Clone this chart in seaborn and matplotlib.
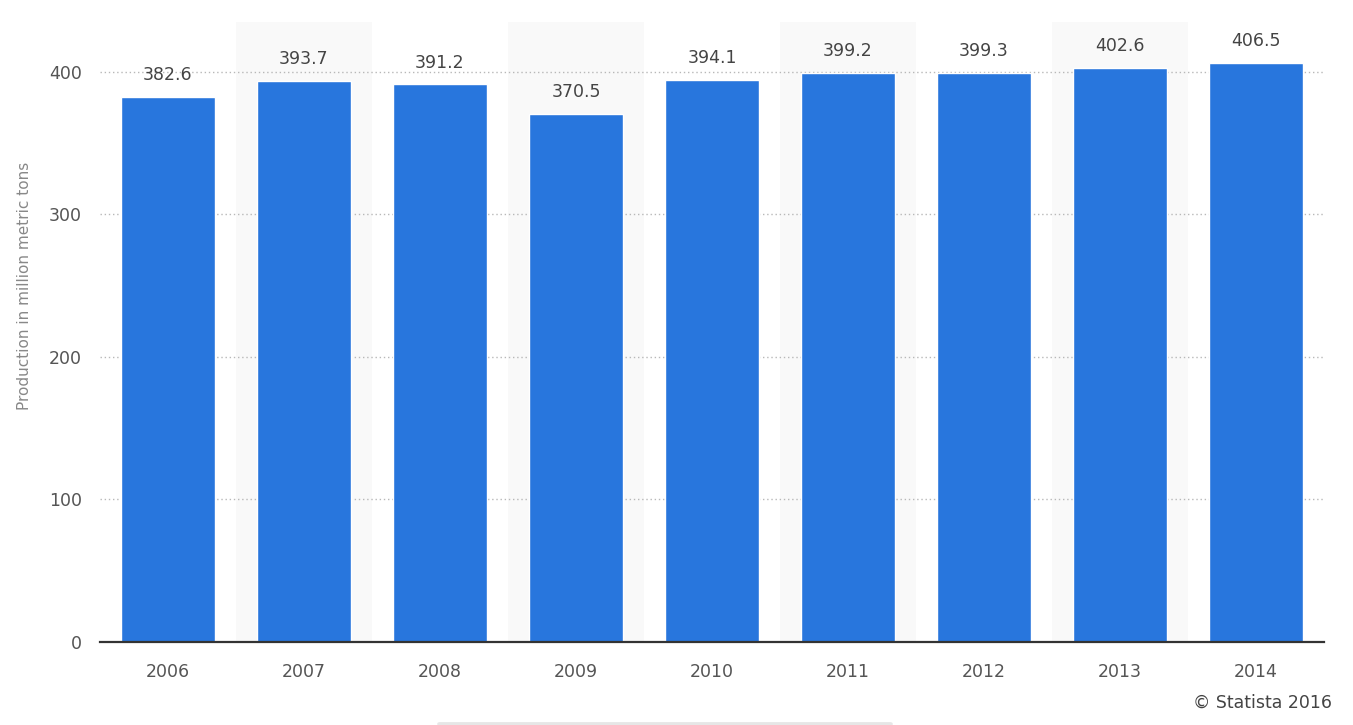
import matplotlib
matplotlib.use("Agg")
import matplotlib.pyplot as plt
from matplotlib.patches import FancyBboxPatch
import seaborn as sns
import pandas as pd

# data
years = ["2006", "2007", "2008", "2009", "2010", "2011", "2012", "2013", "2014"]
production = [382.6, 393.7, 391.2, 370.5, 394.1, 399.2, 399.3, 402.6, 406.5]
labels = ["382.6", "393.7", "391.2", "370.5", "394.1", "399.2", "399.3", "402.6", "406.5"]

df = pd.DataFrame({"Year": years, "Production": production})

sns.set_style("white")
plt.rcParams["font.family"] = ["DejaVu Sans"]

fig = plt.figure(figsize=(13.53, 7.25), dpi=100)
ax = fig.add_axes([100 / 1353, 1 - 642 / 725, 1224 / 1353, 620 / 725])

# alternating light bands behind every other year
for i in range(len(years)):
    if i % 2 == 1:
        ax.axvspan(i - 0.5, i + 0.5, color="#f9f9f9", zorder=0, lw=0)

sns.barplot(data=df, x="Year", y="Production", color="#2876dd",
            saturation=1, width=0.685, ax=ax, zorder=2)

for i, (v, t) in enumerate(zip(production, labels)):
    ax.text(i, v + 9, t, ha="center", va="bottom", fontsize=12.5,
            color="#444444", zorder=3)

ax.set_xlim(-0.5, len(years) - 0.5)
ax.set_ylim(0, 435)
ax.set_yticks([0, 100, 200, 300, 400])
ax.yaxis.grid(True, linestyle=(0, (1, 2)), color="#b8b8b8", lw=1)
ax.set_axisbelow(True)
for s in ["top", "right", "left"]:
    ax.spines[s].set_visible(False)
ax.spines["bottom"].set_color("#333333")
ax.spines["bottom"].set_linewidth(1.6)
ax.tick_params(axis="both", length=0, labelsize=12.5, colors="#555555")
ax.tick_params(axis="x", pad=15)
ax.tick_params(axis="y", pad=13)
ax.set_xlabel("")
ax.set_ylabel("Production in million metric tons", fontsize=11,
              color="#888888")
ax.yaxis.set_label_coords(-0.0556, 0.575)

fig.text(1332 / 1353, 1 - 703 / 725, "\u00a9 Statista 2016", ha="right",
         va="center", fontsize=12.5, color="#444444")

# faint scrollbar-like shape at the bottom edge
fig.patches.append(FancyBboxPatch((440 / 1353, -0.01), 450 / 1353, 0.012,
                                  boxstyle="round,pad=0.002", transform=fig.transFigure,
                                  facecolor="#e6e6e6", edgecolor="none"))

plt.savefig("out.png", dpi=100)
